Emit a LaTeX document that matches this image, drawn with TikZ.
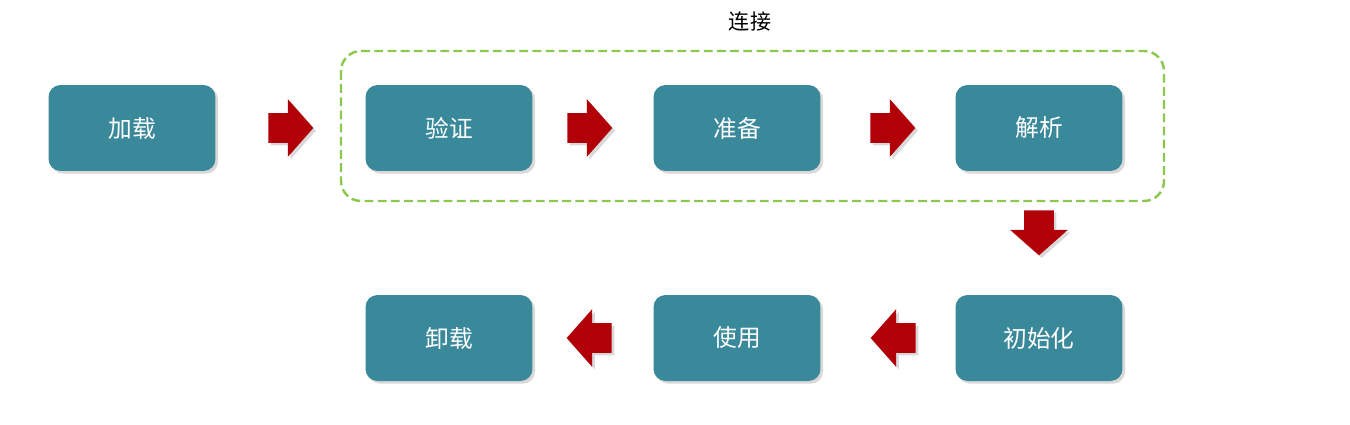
\documentclass[tikz,border=0pt]{standalone}
\usepackage{fontspec}
\setmainfont{Noto Sans CJK SC}
\usetikzlibrary{shapes.arrows,shadows,positioning}
\definecolor{stagecol}{RGB}{58,137,155}
\definecolor{arrowcol}{RGB}{178,0,8}
\definecolor{linkcol}{RGB}{140,200,80}
\begin{document}
\begin{tikzpicture}[x=0.02cm,y=-0.02cm,
	stage/.style={rectangle, rounded corners=0.24cm, fill=stagecol, text=white,
		minimum width=3.34cm, minimum height=1.72cm, inner sep=0pt, font=\fontsize{13.5}{15}\selectfont,
		drop shadow={opacity=0.3, shadow xshift=1.5pt, shadow yshift=-1.5pt}},
	flow/.style={single arrow, fill=arrowcol, draw=none, inner xsep=0pt, inner ysep=0.29cm,
		minimum height=0.9cm, single arrow head extend=0.28cm,
		single arrow tip angle=97, anchor=tail,
		drop shadow={opacity=0.3, shadow xshift=1.5pt, shadow yshift=-1.5pt}}]
		\useasboundingbox (0,0) rectangle (1350,424);
		% group of the three link steps
		\draw[linkcol, line width=1.4pt, dash pattern=on 5pt off 2.5pt, rounded corners=0.4cm]
		(341,51) rectangle (1164,201);
		\node (link) at (750,22) {\fontsize{12}{14}\selectfont 连接};
		% first row
		\node[stage] (load) at (132,128) {加载};
		\node[stage] (verify) at (449,128) {验证};
		\node[stage] (prepare) at (737,128) {准备};
		\node[stage] (resolve) at (1039,128) {解析};
		% second row
		\node[stage] (init) at (1039,338) {初始化};
		\node[stage] (use) at (737,338) {使用};
		\node[stage] (unload) at (449,338) {卸载};
		% block arrows between the steps
		\node[flow] (a_lv) at (268,128) {};
		\node[flow] (a_vp) at (567,128) {};
		\node[flow] (a_pr) at (870,128) {};
		\node[flow, rotate=-90] (a_ri) at (1039,210) {};
		\node[flow, rotate=180] (a_iu) at (916,338) {};
		\node[flow, rotate=180] (a_uu) at (612,338) {};
	\end{tikzpicture}
\end{document}
